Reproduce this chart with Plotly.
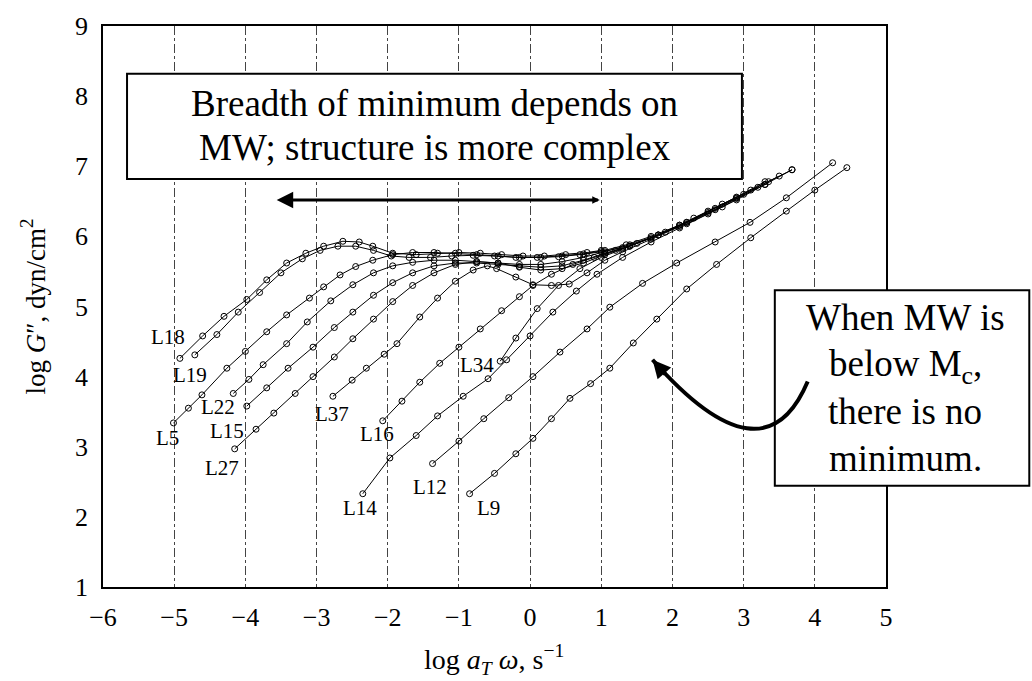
import plotly.graph_objects as go

# ---------------- data ----------------
x_ticks = [-6, -5, -4, -3, -2, -1, 0, 1, 2, 3, 4, 5]
x_ticktext = ["\u22126", "\u22125", "\u22124", "\u22123", "\u22122", "\u22121", "0", "1", "2", "3", "4", "5"]
y_ticks = [1, 2, 3, 4, 5, 6, 7, 8, 9]

L18_x = [-4.92, -4.6, -4.3, -3.98, -3.7, -3.42, -3.15, -2.9, -2.63, -2.4, -2.21, -1.93, -1.6, -1.3, -1.0, -0.7, -0.4, -0.1, 0.2, 0.5, 0.8, 1.0]
L18_y = [4.26, 4.58, 4.86, 5.10, 5.38, 5.62, 5.76, 5.86, 5.93, 5.92, 5.86, 5.76, 5.74, 5.76, 5.77, 5.76, 5.74, 5.72, 5.72, 5.74, 5.77, 5.80]

L19_x = [-4.71, -4.4, -4.1, -3.8, -3.5, -3.2, -2.95, -2.7, -2.45, -2.2, -1.95, -1.7, -1.4, -1.1, -0.8, -0.5, -0.2, 0.1, 0.4, 0.7, 1.0, 1.3]
L19_y = [4.31, 4.60, 4.92, 5.20, 5.48, 5.68, 5.80, 5.86, 5.86, 5.80, 5.72, 5.70, 5.70, 5.72, 5.73, 5.72, 5.70, 5.70, 5.71, 5.74, 5.78, 5.84]

L5_x = [-5.01, -4.8, -4.61, -4.26, -4.0, -3.7, -3.42, -3.1, -2.9, -2.67, -2.45, -2.21, -1.93, -1.65, -1.35, -1.05, -0.75, -0.45, -0.15, 0.15, 0.45, 0.75, 1.05, 1.35, 1.7, 2.1]
L5_y = [3.34, 3.55, 3.74, 4.12, 4.36, 4.64, 4.88, 5.12, 5.28, 5.45, 5.57, 5.66, 5.74, 5.77, 5.77, 5.76, 5.74, 5.72, 5.70, 5.70, 5.72, 5.75, 5.80, 5.88, 6.00, 6.16]

L22_x = [-4.17, -3.95, -3.75, -3.42, -3.13, -2.8, -2.49, -2.2, -1.93, -1.65, -1.35, -1.05, -0.75, -0.45, -0.15, 0.15, 0.45, 0.75, 1.05, 1.4, 1.8, 2.2, 2.6, 2.9]
L22_y = [3.76, 3.96, 4.17, 4.47, 4.78, 5.08, 5.31, 5.48, 5.58, 5.63, 5.66, 5.66, 5.64, 5.62, 5.60, 5.60, 5.64, 5.70, 5.78, 5.88, 6.02, 6.20, 6.38, 6.55]

L15_x = [-3.98, -3.7, -3.4, -3.05, -2.75, -2.49, -2.2, -1.93, -1.65, -1.35, -1.05, -0.75, -0.45, -0.15, 0.15, 0.45, 0.75, 1.05, 1.4, 1.8, 2.2, 2.7, 3.2]
L15_y = [3.58, 3.84, 4.12, 4.42, 4.70, 4.92, 5.16, 5.34, 5.48, 5.58, 5.62, 5.62, 5.60, 5.57, 5.56, 5.58, 5.66, 5.76, 5.86, 6.02, 6.18, 6.42, 6.70]

L27_x = [-4.15, -3.85, -3.6, -3.3, -3.05, -2.75, -2.49, -2.2, -1.93, -1.65, -1.35, -1.05, -0.75, -0.45, -0.15, 0.15, 0.45, 0.75, 1.05, 1.4, 1.8, 2.2, 2.6, 3.0, 3.35, 3.68]
L27_y = [2.97, 3.25, 3.48, 3.76, 4.00, 4.28, 4.54, 4.82, 5.07, 5.30, 5.48, 5.60, 5.64, 5.62, 5.56, 5.52, 5.54, 5.62, 5.74, 5.86, 6.02, 6.20, 6.40, 6.60, 6.78, 6.95]

L37_x = [-2.77, -2.5, -2.3, -2.05, -1.87, -1.55, -1.3, -1.05, -0.8, -0.6, -0.47, -0.2, 0.04, 0.3, 0.55, 0.8, 1.05, 1.3, 1.7, 2.1, 2.5, 2.9, 3.3]
L37_y = [3.72, 3.95, 4.12, 4.32, 4.47, 4.85, 5.12, 5.36, 5.52, 5.58, 5.54, 5.42, 5.31, 5.30, 5.32, 5.48, 5.66, 5.78, 5.96, 6.14, 6.34, 6.54, 6.74]

L16_x = [-2.07, -1.8, -1.55, -1.27, -1.0, -0.7, -0.4, -0.15, 0.04, 0.3, 0.6, 0.9, 1.2, 1.5, 1.9, 2.3, 2.7, 3.1, 3.5]
L16_y = [3.37, 3.65, 3.92, 4.19, 4.42, 4.68, 4.94, 5.14, 5.30, 5.46, 5.60, 5.70, 5.80, 5.90, 6.06, 6.26, 6.46, 6.66, 6.86]

L34_x = [-0.42, -0.2, 0.1, 0.4, 0.7, 1.0, 1.3, 1.7, 2.1, 2.5, 2.9, 3.3]
L34_y = [4.22, 4.55, 4.97, 5.30, 5.54, 5.70, 5.82, 5.98, 6.16, 6.36, 6.56, 6.78]

L14_x = [-2.35, -1.97, -1.6, -1.3, -0.94, -0.59, -0.33, 0.0, 0.32, 0.65, 0.94, 1.3, 1.7, 2.1, 2.5, 2.9, 3.3, 3.68]
L14_y = [2.33, 2.84, 3.16, 3.44, 3.72, 3.97, 4.24, 4.58, 4.92, 5.22, 5.46, 5.70, 5.92, 6.12, 6.32, 6.52, 6.74, 6.95]

L12_x = [-1.37, -1.0, -0.65, -0.3, 0.04, 0.42, 0.8, 1.12, 1.58, 2.06, 2.6, 3.09, 3.6, 4.25]
L12_y = [2.76, 3.08, 3.40, 3.70, 4.00, 4.35, 4.68, 4.99, 5.33, 5.62, 5.92, 6.20, 6.55, 7.05]

L9_x = [-0.85, -0.5, -0.2, 0.04, 0.3, 0.56, 0.85, 1.12, 1.45, 1.78, 2.2, 2.62, 3.1, 3.6, 4.0, 4.45]
L9_y = [2.33, 2.62, 2.90, 3.12, 3.40, 3.69, 3.90, 4.12, 4.48, 4.82, 5.25, 5.60, 5.98, 6.36, 6.66, 6.98]

curve_names = ["L18", "L19", "L5", "L22", "L15", "L27", "L37", "L16", "L34", "L14", "L12", "L9"]
curve_xs = [L18_x, L19_x, L5_x, L22_x, L15_x, L27_x, L37_x, L16_x, L34_x, L14_x, L12_x, L9_x]
curve_ys = [L18_y, L19_y, L5_y, L22_y, L15_y, L27_y, L37_y, L16_y, L34_y, L14_y, L12_y, L9_y]

# curve labels (text, x, y)
label_text = ["L18", "L19", "L22", "L15", "L5", "L27", "L37", "L16", "L34", "L14", "L12", "L9"]
label_x = [-5.09, -4.78, -4.38, -4.26, -5.10, -4.33, -2.78, -2.15, -0.75, -2.39, -1.41, -0.59]
label_y = [4.57, 4.03, 3.57, 3.23, 3.12, 2.70, 3.46, 3.18, 4.17, 2.13, 2.42, 2.13]

# annotation geometry
breadth_arrow = {"x_from": 1.0, "x_to": -3.56, "y": 6.52}
curved_arrow = {"start": (3.90, 3.93), "ctrl": (3.28, 2.44), "end": (1.72, 4.24)}

SERIF = "Liberation Serif, Times New Roman, serif"

fig = go.Figure()
for name, xs, ys in zip(curve_names, curve_xs, curve_ys):
    fig.add_trace(go.Scatter(
        x=xs, y=ys, mode="lines+markers", name=name,
        line=dict(color="black", width=1),
        marker=dict(symbol="circle-open", size=6, color="black", line=dict(width=1)),
        showlegend=False, hoverinfo="skip"))

for t, lx, ly in zip(label_text, label_x, label_y):
    fig.add_annotation(x=lx, y=ly, text=t, showarrow=False, xanchor="center", yanchor="middle",
                       font=dict(family=SERIF, size=21, color="black"))

# boxes (paper coordinates)
fig.add_shape(type="rect", xref="paper", yref="paper", x0=0.0307, x1=0.816, y0=0.7274, y1=0.915,
              line=dict(color="black", width=2), fillcolor="white", layer="above")
fig.add_shape(type="rect", xref="paper", yref="paper", x0=0.858, x1=1.183, y0=0.1805, y1=0.529,
              line=dict(color="black", width=2), fillcolor="white", layer="above")

# curved arrow
sx, sy = curved_arrow["start"]
cx, cy = curved_arrow["ctrl"]
ex, ey = curved_arrow["end"]
fig.add_shape(type="path", xref="x", yref="y",
              path=f"M {sx},{sy} Q {cx},{cy} {ex},{ey}",
              line=dict(color="black", width=4), layer="above")
fig.add_annotation(x=ex, y=ey, ax=14, ay=16, text="", showarrow=True,
                   arrowhead=2, arrowsize=0.9, arrowwidth=4, arrowcolor="black", standoff=0)

# horizontal double arrow
fig.add_annotation(x=breadth_arrow["x_to"], y=breadth_arrow["y"],
                   ax=breadth_arrow["x_from"], ay=breadth_arrow["y"], axref="x", ayref="y",
                   text="", showarrow=True, arrowhead=2, arrowsize=1.1, arrowwidth=3,
                   arrowside="end+start", startarrowhead=2, startarrowsize=0.5,
                   arrowcolor="black", standoff=0, startstandoff=0)

box_font = dict(family=SERIF, size=37, color="black")
fig.add_annotation(xref="paper", yref="paper", x=0.4234, y=0.862, text="Breadth of minimum depends on",
                   showarrow=False, font=box_font, xanchor="center", yanchor="middle")
fig.add_annotation(xref="paper", yref="paper", x=0.4234, y=0.784, text="MW; structure is more complex",
                   showarrow=False, font=box_font, xanchor="center", yanchor="middle")
for txt, py in zip(["When MW is", "below M<sub>c</sub>,", "there is no", "minimum."],
                   [0.480, 0.393, 0.312, 0.2285]):
    fig.add_annotation(xref="paper", yref="paper", x=1.0243, y=py, text=txt,
                       showarrow=False, font=box_font, xanchor="center", yanchor="middle")

# axis titles
fig.add_annotation(xref="paper", yref="paper", x=0.4994, y=-0.13,
                   text="log <i>a<sub>T</sub> \u03c9</i>, s<sup>\u22121</sup>", showarrow=False,
                   xanchor="center", yanchor="middle",
                   font=dict(family=SERIF, size=28, color="black"))
fig.add_annotation(xref="paper", yref="paper", x=-0.0894, y=0.5, textangle=-90,
                   text="log <i>G</i>\u2033, dyn/cm<sup>2</sup>", showarrow=False,
                   xanchor="center", yanchor="middle",
                   font=dict(family=SERIF, size=27, color="black"))

fig.update_xaxes(range=[-6, 5], tickvals=x_ticks, ticktext=x_ticktext,
                 showgrid=True, gridcolor="#444", gridwidth=1, griddash="dashdot",
                 showline=True, linecolor="black", linewidth=1.5, mirror=True,
                 zeroline=False, ticks="", ticklabelstandoff=6,
                 tickfont=dict(family=SERIF, size=26, color="black"))
fig.update_yaxes(range=[1, 9], tickvals=y_ticks,
                 showgrid=False, showline=True, linecolor="black", linewidth=1.5, mirror=True,
                 zeroline=False, ticks="", ticklabelstandoff=8,
                 tickfont=dict(family=SERIF, size=26, color="black"))

fig.update_layout(width=1032, height=681, margin=dict(l=103, r=146, t=22, b=94),
                  plot_bgcolor="white", paper_bgcolor="white", showlegend=False)

fig.write_html("out.html")
